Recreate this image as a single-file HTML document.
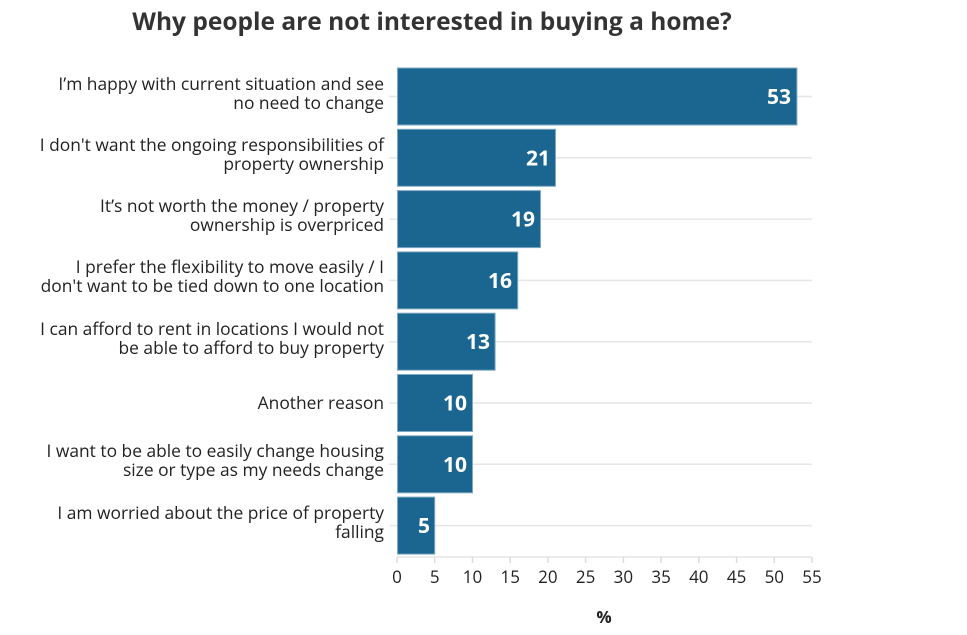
<!DOCTYPE html>
<html><head><meta charset="utf-8"><style>
body{margin:0;background:#fff;}
svg{font-family:"Open Sans","Liberation Sans","DejaVu Sans",sans-serif;}
</style></head><body>
<svg width="967" height="630" viewBox="0 0 967 630" xmlns="http://www.w3.org/2000/svg">
<text x="432" y="30" text-anchor="middle" font-size="24.5" font-weight="bold" fill="#333">Why people are not interested in buying a home?</text>
<g stroke="#e6e6e6" stroke-width="1.5">
<line x1="389" x2="812" y1="96.5" y2="96.5"/>
<line x1="389" x2="812" y1="157.8" y2="157.8"/>
<line x1="389" x2="812" y1="219.1" y2="219.1"/>
<line x1="389" x2="812" y1="280.4" y2="280.4"/>
<line x1="389" x2="812" y1="341.7" y2="341.7"/>
<line x1="389" x2="812" y1="403" y2="403"/>
<line x1="389" x2="812" y1="464.3" y2="464.3"/>
<line x1="389" x2="812" y1="525.6" y2="525.6"/>
<line x1="397" x2="812" y1="557" y2="557"/>
</g>
<g stroke="#ddd" stroke-width="1.5">
<line x1="397" x2="397" y1="557" y2="563"/><line x1="434.7" x2="434.7" y1="557" y2="563"/><line x1="472.5" x2="472.5" y1="557" y2="563"/><line x1="510.2" x2="510.2" y1="557" y2="563"/><line x1="547.9" x2="547.9" y1="557" y2="563"/><line x1="585.6" x2="585.6" y1="557" y2="563"/><line x1="623.4" x2="623.4" y1="557" y2="563"/><line x1="661.1" x2="661.1" y1="557" y2="563"/><line x1="698.8" x2="698.8" y1="557" y2="563"/><line x1="736.6" x2="736.6" y1="557" y2="563"/><line x1="774.3" x2="774.3" y1="557" y2="563"/><line x1="812" x2="812" y1="557" y2="563"/>
</g>
<g fill="#1b6690" stroke="#7fa8c2" stroke-width="1">
<rect x="397.5" y="68" width="399.4" height="57"/>
<rect x="397.5" y="129.3" width="158" height="57"/>
<rect x="397.5" y="190.6" width="143" height="57"/>
<rect x="397.5" y="251.9" width="120.2" height="57"/>
<rect x="397.5" y="313.2" width="97.6" height="57"/>
<rect x="397.5" y="374.5" width="75" height="57"/>
<rect x="397.5" y="435.8" width="75" height="57"/>
<rect x="397.5" y="497.1" width="37.2" height="57"/>
</g>
<g fill="#fff" font-size="21" font-weight="bold" text-anchor="end">
<text x="791" y="104">53</text>
<text x="550" y="165.3">21</text>
<text x="535" y="226.6">19</text>
<text x="512" y="287.9">16</text>
<text x="490" y="349.2">13</text>
<text x="467" y="410.5">10</text>
<text x="467" y="471.8">10</text>
<text x="430" y="533.1">5</text>
</g>
<g fill="#222" font-size="17.4" text-anchor="end">
<text x="384" y="90">I’m happy with current situation and see</text>
<text x="384" y="109">no need to change</text>
<text x="384" y="151">I don't want the ongoing responsibilities of</text>
<text x="384" y="170">property ownership</text>
<text x="384" y="212">It’s not worth the money / property</text>
<text x="384" y="231">ownership is overpriced</text>
<text x="384" y="273">I prefer the flexibility to move easily / I</text>
<text x="384" y="292">don't want to be tied down to one location</text>
<text x="384" y="335">I can afford to rent in locations I would not</text>
<text x="384" y="354">be able to afford to buy property</text>
<text x="384" y="409">Another reason</text>
<text x="384" y="457">I want to be able to easily change housing</text>
<text x="384" y="476">size or type as my needs change</text>
<text x="384" y="519">I am worried about the price of property</text>
<text x="384" y="538">falling</text>
</g>
<g fill="#222" font-size="17" text-anchor="middle">
<text x="397" y="583">0</text><text x="434.7" y="583">5</text><text x="472.5" y="583">10</text><text x="510.2" y="583">15</text><text x="547.9" y="583">20</text><text x="585.6" y="583">25</text><text x="623.4" y="583">30</text><text x="661.1" y="583">35</text><text x="698.8" y="583">40</text><text x="736.6" y="583">45</text><text x="774.3" y="583">50</text><text x="812" y="583">55</text>
</g>
<text x="604" y="623" text-anchor="middle" font-size="17" font-weight="bold" fill="#222">%</text>
</svg>
</body></html>
